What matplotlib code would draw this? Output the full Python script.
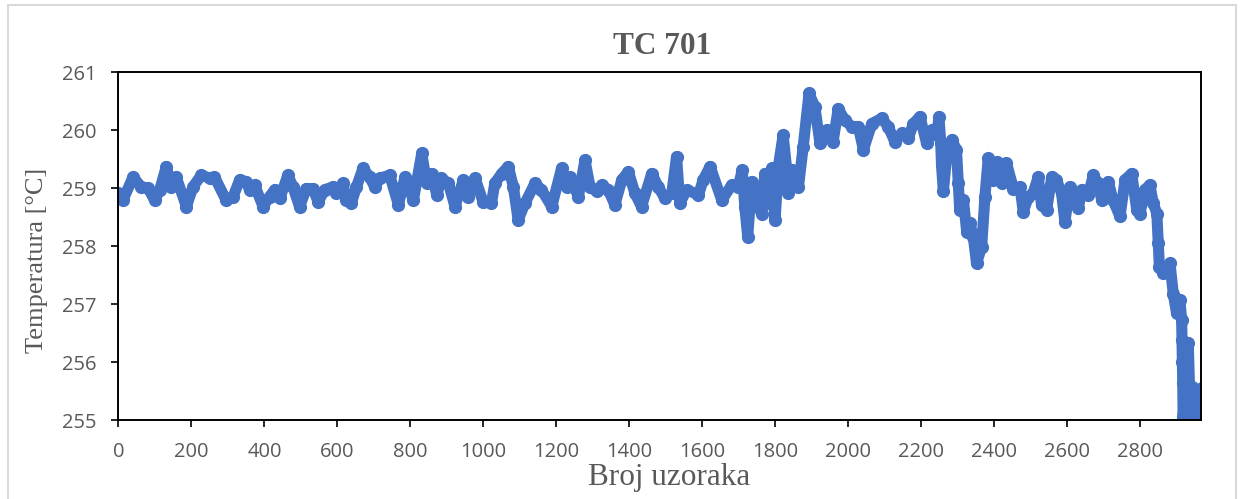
import matplotlib
matplotlib.use("Agg")
import matplotlib.pyplot as plt
from matplotlib.patches import Rectangle

# Sample index (Broj uzoraka) and temperature readings (°C)
samples = [0, 12, 40, 62, 81, 99, 113, 131, 145, 158, 186, 204, 227, 250, 263, 295, 314, 332, 350, 359,
           373, 396, 414, 428, 442, 464, 478, 496, 515, 533, 547, 565, 588, 597, 615, 624, 638, 652, 670, 688,
           702, 716, 743, 767, 785, 808, 831, 844, 858, 872, 885, 904, 922, 945, 958, 977, 999, 1022, 1031, 1050,
           1068, 1082, 1095, 1114, 1141, 1159, 1187, 1214, 1228, 1237, 1260, 1278, 1292, 1310, 1324, 1342, 1360, 1379, 1397, 1415,
           1433, 1461, 1479, 1497, 1516, 1529, 1538, 1557, 1589, 1602, 1621, 1653, 1680, 1698, 1709, 1716, 1724, 1735, 1748, 1762,
           1771, 1780, 1790, 1799, 1808, 1821, 1831, 1835, 1844, 1863, 1876, 1892, 1908, 1922, 1940, 1958, 1972, 1990, 2009, 2027,
           2041, 2064, 2091, 2109, 2127, 2146, 2164, 2178, 2196, 2214, 2228, 2242, 2248, 2253, 2255, 2260, 2269, 2283, 2296, 2301,
           2305, 2315, 2324, 2333, 2342, 2351, 2365, 2374, 2383, 2397, 2406, 2420, 2433, 2452, 2470, 2479, 2493, 2506, 2520, 2529,
           2543, 2557, 2570, 2584, 2593, 2607, 2616, 2630, 2639, 2657, 2671, 2684, 2694, 2712, 2725, 2744, 2758, 2776, 2790, 2799,
           2812, 2826, 2835, 2845, 2849, 2852, 2863, 2881, 2890, 2899, 2908, 2913, 2914, 2915, 2916, 2917, 2931, 2937, 2940, 2949,
           2968]
temperature = [258.91, 258.79, 259.19, 259.02, 259.00, 258.79, 258.97, 259.37, 259.02, 259.19, 258.68, 259.02, 259.22, 259.17, 259.19, 258.79, 258.85, 259.14, 259.11, 258.97,
               259.05, 258.68, 258.85, 258.97, 258.82, 259.22, 259.02, 258.68, 258.99, 258.99, 258.76, 258.97, 259.02, 258.91, 259.08, 258.79, 258.74, 259.02, 259.34, 259.19,
               259.02, 259.17, 259.22, 258.71, 259.19, 258.79, 259.60, 259.08, 259.25, 258.88, 259.17, 259.08, 258.68, 259.14, 258.85, 259.17, 258.76, 258.74, 259.08, 259.25,
               259.37, 259.02, 258.45, 258.74, 259.08, 258.97, 258.68, 259.34, 259.02, 259.19, 258.85, 259.48, 259.02, 258.94, 259.05, 258.97, 258.71, 259.14, 259.28, 258.91,
               258.68, 259.25, 259.02, 258.82, 258.91, 259.54, 258.74, 258.97, 258.88, 259.14, 259.37, 258.79, 259.05, 259.02, 259.31, 258.68, 258.16, 259.11, 258.74, 258.56,
               259.25, 258.74, 259.34, 258.45, 259.37, 259.91, 259.31, 258.91, 259.31, 259.02, 259.71, 260.63, 260.40, 259.77, 260.00, 259.80, 260.37, 260.17, 260.06, 260.06,
               259.66, 260.11, 260.20, 260.06, 259.80, 259.94, 259.86, 260.11, 260.23, 259.77, 260.00, 259.91, 260.23, 259.77, 259.40, 258.94, 259.54, 259.83, 259.66, 259.08,
               258.62, 258.79, 258.25, 258.39, 258.16, 257.70, 257.99, 258.85, 259.51, 259.14, 259.45, 259.08, 259.43, 258.99, 259.02, 258.59, 258.85, 258.91, 259.19, 258.71,
               258.62, 259.19, 259.14, 258.91, 258.42, 259.02, 258.79, 258.65, 258.97, 258.88, 259.22, 259.08, 258.79, 259.11, 258.79, 258.51, 259.14, 259.25, 258.62, 258.56,
               258.97, 259.05, 258.74, 258.56, 258.05, 257.64, 257.53, 257.70, 257.18, 256.84, 257.07, 256.72, 256.38, 256.00, 255.63, 255.06, 256.32, 255.05, 255.57, 255.06,
               255.55]

x_ticks = list(range(0, 2801, 200))
y_ticks = [255, 256, 257, 258, 259, 260, 261]

title_text = "TC 701"
x_label = "Broj uzoraka"
y_label = "Temperatura [°C]"

W, H = 1241, 499
fig = plt.figure(figsize=(W / 100, H / 100), dpi=100)
ax = fig.add_axes([118.5 / W, 1 - 420 / H, (1201 - 118.5) / W, (420 - 72) / H])

blue = "#4472C4"
ax.plot(samples, temperature, color=blue, lw=8.0, solid_capstyle="round", solid_joinstyle="round",
        marker="o", ms=8.5, mec=blue, mfc=blue, zorder=3)

ax.set_xlim(0, 2966)
ax.set_ylim(255, 261)
ax.set_xticks(x_ticks)
ax.set_yticks(y_ticks)

tick_color = "#595959"
for lab in ax.get_xticklabels() + ax.get_yticklabels():
    lab.set_fontfamily("Open Sans")
    lab.set_fontsize(14.5)
    lab.set_color(tick_color)
ax.tick_params(axis="x", direction="out", length=5, width=1.2, pad=11, top=False)
ax.tick_params(axis="y", direction="out", length=5, width=1.2, pad=11, right=False)
for s in ax.spines.values():
    s.set_linewidth(1.4)
    s.set_color("black")
    s.set_zorder(4)

fig.text(662 / W, 1 - 46 / H, title_text, ha="center", va="center", family="Liberation Serif",
         fontweight="bold", fontsize=22.5, color=tick_color)
fig.text(669 / W, 1 - 478 / H, x_label, ha="center", va="center", family="Liberation Serif",
         fontsize=22.5, color=tick_color)
fig.text(37 / W, 1 - 260 / H, y_label, ha="center", va="center", rotation=90, family="Liberation Serif",
         fontsize=19, color=tick_color)

fig.patches.append(Rectangle((7.5 / W, -0.1), (1236 - 7.5) / W, 1.1 - 5.5 / H, transform=fig.transFigure,
                             fill=False, edgecolor="#d9d9d9", lw=1.5))

fig.savefig("out.png", dpi=100)
